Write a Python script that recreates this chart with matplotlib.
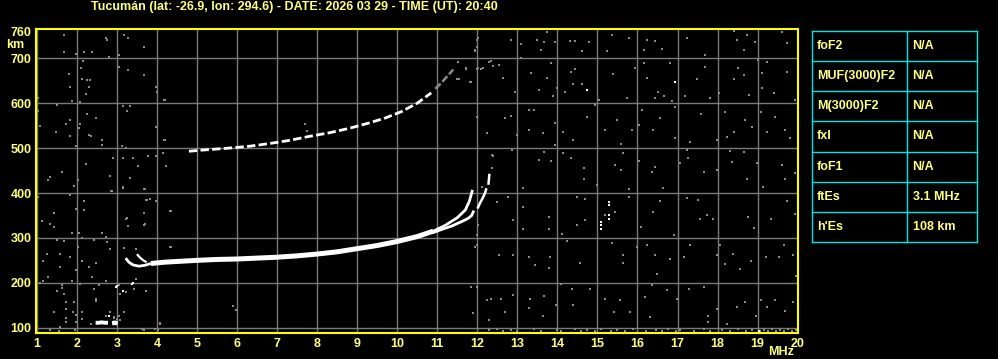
import matplotlib
matplotlib.use("Agg")
import matplotlib.pyplot as plt

# ─── DATA ───

TITLE = "Tucumán (lat: -26.9, lon: 294.6) - DATE: 2026 03 29 - TIME (UT): 20:40"

freq_ticks = list(range(1, 21))
height_ticks = [100, 200, 300, 400, 500, 600, 700, 760]

# main F trace (first hop), MHz / km
f1_freq = [3.22, 3.30, 3.40, 3.55, 3.70, 3.85, 4.20, 4.60, 5.00, 5.50, 6.00, 6.50, 7.00,
           7.50, 8.00, 8.50, 9.00, 9.50, 10.00, 10.50, 10.90, 11.20, 11.50, 11.70, 11.80, 11.88]
f1_height = [255, 246, 240, 237, 239, 243, 246, 248, 250, 252, 253, 255, 257,
             260, 264, 269, 276, 283, 292, 303, 315, 328, 345, 362, 381, 407]

# small second hook at the low end
hook_freq = [3.52, 3.58, 3.66, 3.72]
hook_height = [262, 256, 250, 247]

# x-like branch splitting off near the end
xb_freq = [10.90, 11.15, 11.35, 11.50, 11.65, 11.78, 11.86, 11.90]
xb_height = [312, 320, 326, 332, 338, 344, 350, 358]

# short piece above 12 MHz
xc_freq = [12.02, 12.07, 12.13, 12.19, 12.22]
xc_height = [368, 378, 388, 399, 408]
xd_freq = [12.28, 12.29, 12.30]
xd_height = [421, 430, 440]

# second hop trace
f2_freq = [4.80, 5.20, 5.80, 6.30, 6.80, 7.30, 7.80, 8.30, 8.80, 9.30, 9.70, 10.10, 10.50, 10.85]
f2_height = [493, 496, 500, 504, 510, 517, 526, 534, 544, 556, 567, 581, 600, 623]
f2_tail_freq = [10.95, 11.10, 11.25, 11.40]
f2_tail_height = [632, 645, 660, 675]

# sporadic E trace
es_freq = [2.47, 2.55, 2.62, 2.70, 2.78]
es_height = [111, 111, 112, 111, 111]
es2_freq = [2.88, 2.95, 3.02]
es2_height = [110, 111, 110]

# isolated white echoes
white_freq = [2.80, 2.98, 3.00, 3.15, 3.38, 3.40, 14.73, 16.94, 19.03,
              15.08, 15.08, 15.08, 15.29, 15.29, 15.29, 15.29]
white_height = [126, 191, 193, 182, 198, 199, 629, 648, 92,
                320, 328, 336, 343, 350, 373, 381]

# background noise (gray dots)
noise_freq = [
    1.69, 2.72, 2.75, 3.19, 3.29, 3.69, 2.80, 3.05, 1.69, 1.98, 2.19, 2.38, 2.15, 2.11,
    1.80, 2.13, 2.25, 2.34, 2.30, 2.23, 1.83, 1.88, 2.08, 3.06, 3.29, 3.69, 3.98, 4.19,
    1.03, 1.03, 1.50, 3.15, 3.26, 3.33, 2.25, 2.48, 1.84, 1.73, 2.08, 1.08, 1.48, 2.05,
    2.30, 2.36, 1.82, 2.63, 2.63, 1.98, 3.98, 4.19, 3.13, 3.23, 2.90, 3.15, 3.40, 3.78,
    3.98, 4.15, 3.53, 4.23, 2.23, 1.63, 1.33, 1.29, 1.94, 2.03, 2.83, 3.33, 3.15, 3.69,
    2.86, 1.03, 1.83, 2.19, 2.19, 1.98, 3.73, 3.83, 3.98, 4.33, 3.69, 3.23, 3.28, 3.69,
    1.13, 1.33, 1.44, 1.43, 1.88, 2.05, 2.13, 2.63, 2.73, 2.75, 1.50, 1.69, 2.43, 2.82,
    3.19, 3.48, 4.33, 2.03, 1.26, 1.58, 1.83, 2.13, 1.15, 1.58, 2.30, 2.48, 1.98, 2.38,
    1.29, 1.15, 1.08, 1.88, 2.08, 2.73, 1.63, 1.63, 1.50, 2.55, 2.43, 3.05, 3.08, 3.23,
    3.48, 3.44, 3.73, 1.69, 1.73, 1.94, 2.48, 2.48, 1.73, 1.44, 1.90, 2.13, 2.83, 3.19,
    1.73, 1.98, 2.13, 2.72, 2.94, 1.73, 1.97, 2.36, 1.57, 1.33, 3.69, 4.03, 4.07, 5.90,
    5.98, 2.87, 3.16, 3.70, 3.75, 4.35, 4.35, 3.25, 3.70, 12.03, 12.49, 11.94, 11.99,
    12.53, 12.13, 11.84, 11.90, 12.25, 12.30, 4.08, 3.62, 3.95, 11.94, 11.53, 11.72,
    12.24, 12.36, 7.70, 7.74, 4.00, 4.20, 4.20, 4.00, 11.99, 12.00, 11.53, 11.72, 11.83,
    12.00, 12.10, 12.30, 11.50, 11.55, 12.40, 3.00, 3.05, 3.08, 2.92,
    12.03, 12.83, 13.08, 13.48, 13.67, 13.94, 13.58, 13.75, 14.32, 14.44, 14.78, 14.61,
    15.36, 15.78, 15.23, 16.23, 16.43, 16.15, 16.60, 17.23, 17.68, 18.40, 18.48, 18.73,
    18.94, 18.65, 19.61, 19.73, 11.94, 13.08,
    12.03, 12.15, 12.33, 12.65, 12.53, 12.94, 13.33, 13.55, 13.73, 13.98, 13.88, 13.83,
    14.19, 14.33, 14.44, 14.38, 14.61, 15.03, 15.40, 15.73, 15.94, 16.15, 16.23,
    16.43, 16.52, 16.67, 16.82, 16.86, 17.19, 17.48, 17.68, 17.82, 18.03, 18.40, 18.51,
    18.65, 18.78, 19.00, 19.23, 19.10, 19.10, 19.40, 19.73, 19.94, 11.84,
    12.00, 12.23, 12.69, 12.83, 12.98, 13.28, 13.42, 13.28, 13.65, 13.94, 13.94, 14.15,
    14.40, 14.73, 14.94, 15.19, 15.48, 15.60, 15.86, 16.03, 16.11, 16.38, 16.57, 16.94,
    16.94, 17.32, 17.58, 17.98, 18.19, 18.23, 18.40, 18.69, 18.86, 19.08, 19.23, 19.44,
    19.69, 19.82,
    12.38, 12.36, 12.86, 13.13, 13.55, 13.85, 13.66, 14.13, 14.33, 14.66, 14.66, 14.98,
    15.43, 15.65, 15.60, 15.80, 16.03, 16.35, 16.43, 16.63, 17.23, 17.25, 17.05, 17.65,
    17.98, 18.30, 18.36, 18.65, 18.73, 18.98, 19.13, 19.60, 19.69, 19.94,
    12.48, 12.77, 13.15, 13.13, 12.90, 13.79, 13.78, 14.11, 14.48, 14.69, 14.69, 14.48,
    15.19, 15.44, 15.78, 16.38, 16.08, 16.57, 16.92, 17.23, 17.52, 17.55, 17.73, 17.88,
    18.75, 18.90, 19.33, 19.73, 19.94,
    12.00, 12.55, 12.88, 13.30, 13.44, 13.82, 13.80, 14.08, 14.23, 14.57, 15.36, 15.63,
    15.63, 16.00, 16.23, 16.43, 16.48, 16.82, 17.15, 17.32, 17.98, 18.07, 18.19, 18.38,
    18.55, 18.83, 19.20, 19.53, 19.65, 19.88, 19.97,
    12.00, 12.33, 12.58, 12.69, 12.90, 13.32, 13.28, 13.67, 13.65, 13.97, 14.36, 14.38,
    14.82, 15.19, 15.42, 15.57, 15.82, 16.19, 16.35, 16.32, 16.73, 16.98, 17.28, 17.65,
    17.75, 17.75, 17.98, 18.23, 18.48, 18.69, 18.97, 19.08, 19.23, 19.44, 19.69, 19.88,
]
noise_height = [
    752, 746, 741, 752, 746, 726, 704, 707, 713, 709, 713, 713, 693, 679,
    664, 655, 652, 652, 635, 620, 635, 605, 602, 681, 674, 663, 635, 607,
    611, 583, 597, 594, 583, 594, 575, 568, 562, 553, 553, 550, 535, 544,
    530, 528, 528, 518, 508, 505, 548, 518, 505, 501, 478, 478, 478, 483,
    483, 488, 461, 461, 464, 447, 436, 429, 416, 429, 438, 434, 412, 410,
    404, 391, 395, 382, 362, 365, 384, 386, 382, 359, 356, 343, 327, 328,
    337, 332, 325, 356, 310, 312, 299, 310, 302, 291, 295, 293, 295, 276,
    278, 275, 280, 280, 265, 265, 258, 248, 248, 235, 235, 243, 228, 213,
    213, 203, 200, 203, 198, 203, 194, 188, 181, 196, 187, 194, 176, 180,
    209, 187, 181, 174, 157, 157, 163, 159, 142, 135, 135, 136, 135, 136,
    122, 129, 119, 126, 122, 113, 113, 109, 101, 94, 94, 94, 109, 148,
    139, 404, 414, 410, 384, 361, 280, 344, 330, 329, 381, 280, 306,
    262, 414, 191, 132, 162, 117, 110, 96, 96, 716, 692, 678,
    533, 485, 554, 537, 548, 607, 518, 624, 726, 741, 692, 677, 647,
    677, 677, 692, 655, 655, 683, 120, 125, 118, 124,
    745, 741, 731, 741, 737, 737, 719, 759, 739, 739, 737, 716,
    751, 745, 716, 741, 739, 719, 721, 746, 707, 761, 741, 752,
    737, 719, 758, 733, 719, 701,
    678, 679, 693, 657, 685, 626, 667, 629, 657, 633, 617, 689,
    626, 670, 676, 642, 642, 607, 664, 612, 679, 689, 657,
    611, 626, 617, 689, 604, 615, 655, 681, 611, 622, 655, 679,
    663, 618, 696, 692, 667, 633, 622, 670, 607, 648,
    570, 533, 566, 572, 529, 585, 585, 540, 533, 555, 507, 536,
    518, 570, 595, 540, 562, 510, 540, 551, 585, 540, 566, 592,
    522, 514, 577, 518, 581, 525, 536, 562, 547, 581, 536, 570,
    540, 523,
    483, 455, 496, 412, 474, 471, 492, 488, 477, 456, 432, 417,
    462, 488, 451, 410, 471, 447, 458, 412, 496, 477, 466, 447,
    451, 493, 469, 492, 432, 466, 414, 462, 431, 444,
    380, 391, 369, 320, 339, 346, 320, 309, 391, 387, 339, 328,
    351, 358, 391, 358, 325, 383, 306, 388, 384, 341, 350, 343,
    346, 321, 343, 383, 353,
    284, 261, 261, 258, 239, 258, 232, 198, 293, 243, 289, 261,
    245, 280, 284, 261, 220, 254, 258, 284, 261, 284, 241, 265,
    231, 248, 258, 258, 285, 263, 216,
    190, 163, 163, 136, 172, 165, 144, 170, 127, 150, 187, 150,
    187, 163, 136, 161, 135, 168, 194, 124, 183, 165, 187, 191,
    127, 113, 142, 109, 146, 157, 127, 161, 146, 161, 138, 157,
]

# dense noise along the bottom edge, high frequencies
base_freq = [12.30, 12.50, 12.65, 12.85, 13.00, 13.42, 13.60, 14.00, 14.10, 14.45, 14.60,
             14.75, 14.95, 15.10, 15.35, 15.50, 15.70, 15.90, 16.20, 16.45, 16.60, 16.75,
             16.95, 17.05, 17.40, 17.65, 17.80, 18.10, 18.30, 18.50, 18.70, 18.85, 19.05,
             19.15, 19.25, 19.35, 19.45, 19.55, 19.65, 19.75, 19.85, 19.95, 1.55, 1.95]
base_height = [94, 96, 92, 95, 93, 96, 92, 95, 93, 96, 92,
               95, 93, 96, 92, 95, 93, 96, 92, 95, 93, 96,
               92, 95, 93, 96, 92, 95, 93, 96, 92, 95, 93,
               95, 92, 96, 93, 95, 92, 96, 93, 95, 92, 95]

# ionospheric parameters table
param_names = ["foF2", "MUF(3000)F2", "M(3000)F2", "fxI", "foF1", "ftEs", "h'Es"]
param_values = ["N/A", "N/A", "N/A", "N/A", "N/A", "3.1 MHz", "108 km"]

# ─── STYLE ───

BG = "black"
YELLOW = "#ffff00"
TEXT = "#ffff80"
GRID = "#7a7a7a"
NOISE = "#8a8a8a"
CYAN = "#00e5e5"
FONT = ["Liberation Sans", "DejaVu Sans"]

plt.rcParams["font.family"] = FONT

fig = plt.figure(figsize=(9.98, 3.59), dpi=100, facecolor=BG)

ax = fig.add_axes([0.0358, 0.0733, 0.7635, 0.8451], facecolor=BG)
ax.set_xlim(0.975, 20.0)
ax.set_ylim(88.9, 764.6)

for f in freq_ticks:
    ax.axvline(f, color=GRID, linewidth=1.0, zorder=1)
for h in height_ticks[:-1]:
    ax.axhline(h, color=GRID, linewidth=1.0, zorder=1)

ax.scatter(noise_freq, noise_height, s=4.2, marker="s", color=NOISE, linewidths=0, zorder=2)
ax.scatter(base_freq, base_height, s=4.2, marker="s", color=NOISE, linewidths=0, zorder=2)

# traces
ax.plot(f1_freq[:6], f1_height[:6], color="white", linewidth=2.0, solid_capstyle="butt", zorder=3)
ax.plot(f1_freq[5:21], f1_height[5:21], color="white", linewidth=3.6, solid_capstyle="butt", zorder=3)
ax.plot(f1_freq[20:], f1_height[20:], color="white", linewidth=2.0, solid_capstyle="butt", zorder=3)
ax.plot(hook_freq, hook_height, color="white", linewidth=1.6, zorder=3)
ax.plot(xb_freq, xb_height, color="white", linewidth=2.0, zorder=3)
ax.plot(xc_freq, xc_height, color="white", linewidth=1.8, zorder=3)
ax.plot(xd_freq, xd_height, color="white", linewidth=1.8, zorder=3)
ax.plot(f2_freq, f2_height, color="white", linewidth=2.0, linestyle=(0, (3, 1.2)), zorder=3)
ax.plot(f2_tail_freq, f2_tail_height, color=NOISE, linewidth=1.8, linestyle=(0, (3, 1)), zorder=3)
ax.plot(es_freq, es_height, color="white", linewidth=2.8, solid_capstyle="butt", zorder=3)
ax.plot(es2_freq, es2_height, color="white", linewidth=3.2, solid_capstyle="butt", zorder=3)
ax.scatter(white_freq, white_height, s=4.5, marker="s", color="white", linewidths=0, zorder=3)

ax.set_xticks(freq_ticks)
ax.set_yticks(height_ticks)
ax.tick_params(axis="both", length=0, colors=TEXT, labelsize=9)
ax.tick_params(axis="x", pad=4)
ax.tick_params(axis="y", pad=3)
for lab in ax.get_xticklabels() + ax.get_yticklabels():
    lab.set_fontweight("bold")
for sp in ax.spines.values():
    sp.set_color(YELLOW)
    sp.set_linewidth(1.5)
    sp.set_zorder(4)

fig.text(0.0912, 0.980, TITLE, color=TEXT, fontsize=9, fontweight="bold", ha="left", va="center")
fig.text(0.006, 1 - 45 / 359, "km", color=TEXT, fontsize=9, fontweight="bold", ha="left", va="center")
fig.text(768 / 998, 1 - 352 / 359, "MHz", color=TEXT, fontsize=9, fontweight="bold", ha="left", va="center")

# ─── PARAMETER TABLE ───

tab = fig.add_axes([0.8139, 0.3251, 0.1653, 0.5894], facecolor=BG)
n_rows = len(param_names)
tab.set_xlim(0, 1)
tab.set_ylim(0, n_rows)
tab.axis("off")
for i in range(n_rows + 1):
    tab.plot([0, 1], [i, i], color=CYAN, linewidth=1.0, clip_on=False)
tab.plot([0, 0], [0, n_rows], color=CYAN, linewidth=1.0, clip_on=False)
tab.plot([1, 1], [0, n_rows], color=CYAN, linewidth=1.0, clip_on=False)
tab.plot([0.576, 0.576], [0, n_rows], color=CYAN, linewidth=1.0, clip_on=False)
for i, (name, val) in enumerate(zip(param_names, param_values)):
    yc = n_rows - i - 0.5
    tab.text(0.03, yc, name, color=TEXT, fontsize=9, fontweight="bold", ha="left", va="center")
    tab.text(0.608, yc, val, color=TEXT, fontsize=9, fontweight="bold", ha="left", va="center")

fig.savefig("out.png", dpi=100, facecolor=BG)
